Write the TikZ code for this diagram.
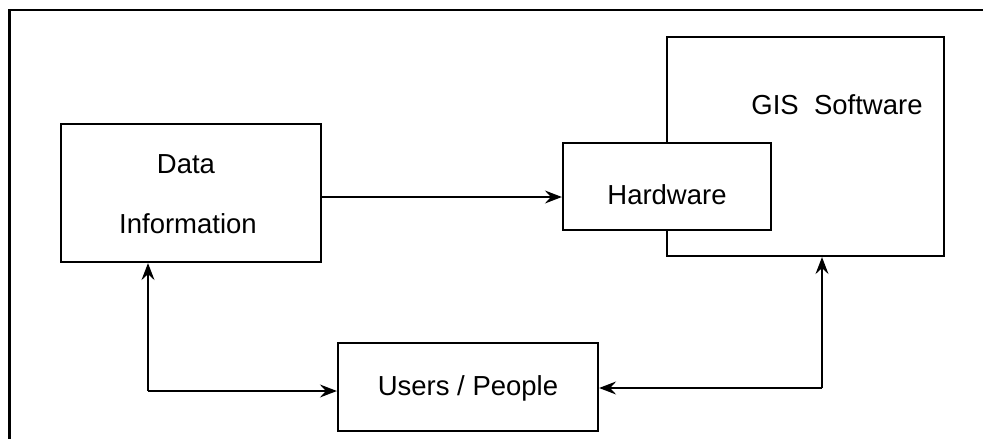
\documentclass[tikz,border=0pt]{standalone}
\usepackage{fontspec}
\setmainfont{Liberation Sans}
\usetikzlibrary{arrows.meta}
\begin{document}
\begin{tikzpicture}[x=1pt,y=-1pt,
  box/.style={draw=black,line width=2.2pt,fill=white,inner sep=0pt},
  lbl/.style={font=\fontsize{27.5}{32}\selectfont,inner sep=0pt},
  link/.style={line width=1.6pt,-{Stealth[length=17pt,width=13pt,inset=6pt]}}]
\useasboundingbox (0,0) rectangle (983,439);
% outer frame (left and top edges)
\draw[line width=2.2pt] (9.5,439) -- (9.5,10) -- (983,10);

% boxes
\node[box,minimum width=260pt,minimum height=138pt] (data) at (191,193) {};
\node[lbl] at (186,164) {Data};
\node[lbl] at (188,224) {Information};

\node[box,minimum width=277pt,minimum height=219pt] (gis) at (805.5,146.5) {};
\node[lbl] at (837,105) {GIS\ \ Software};

\node[box,minimum width=208pt,minimum height=87pt] (hw) at (667,186.5) {};
\node[lbl] at (667,195) {Hardware};

\node[box,minimum width=260pt,minimum height=88pt] (users) at (468,387) {};
\node[lbl] at (468,388) {Users / People};

% connectors
\draw[link] (data.east |- 0,197) -- (hw.west |- 0,197);

\coordinate (lc) at (148,391);
\draw[link] (lc) -- (148,0 |- data.south);
\draw[link] (lc) -- (users.west |- lc);

\coordinate (rc) at (822,388);
\draw[link] (rc) -- (822,0 |- gis.south);
\draw[link] (rc) -- (users.east |- rc);
\end{tikzpicture}
\end{document}
